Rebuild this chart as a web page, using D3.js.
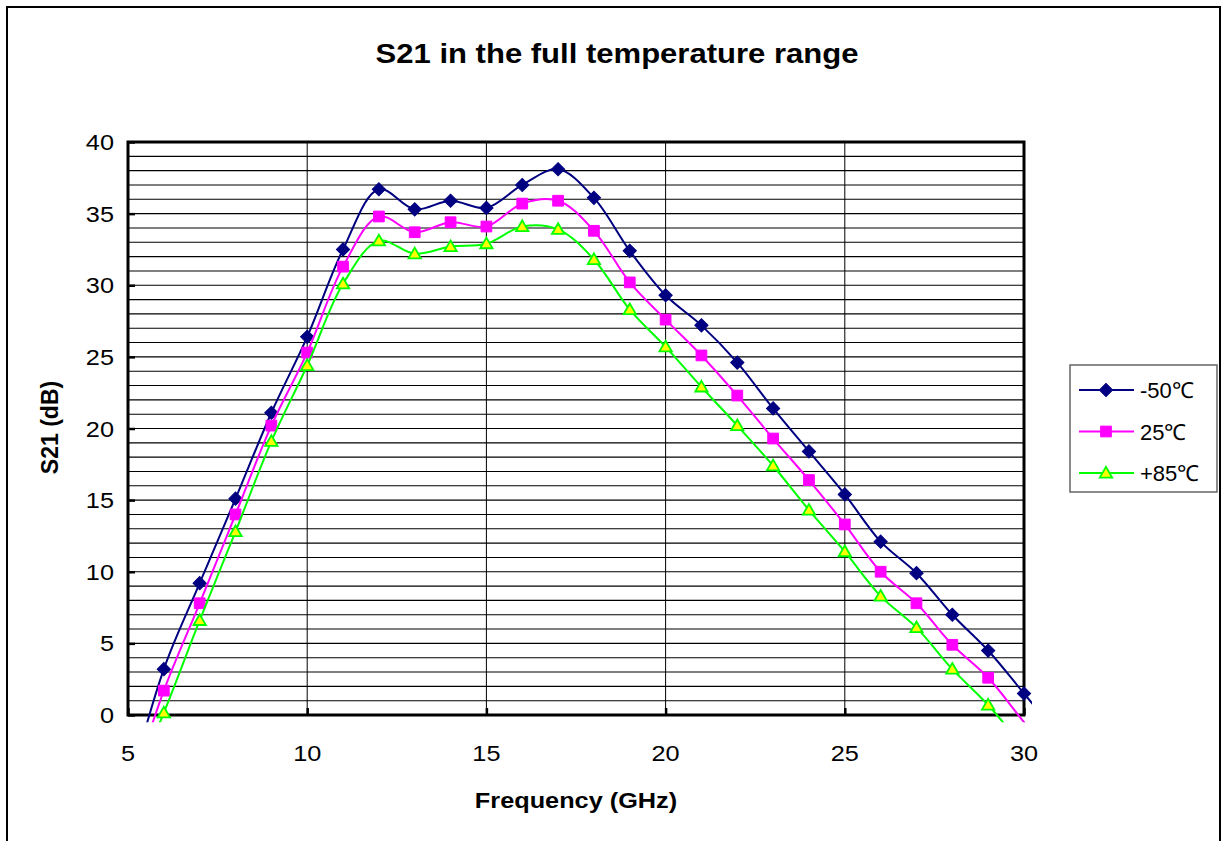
<!DOCTYPE html>
<html>
<head>
<meta charset="utf-8">
<script src="https://cdn.jsdelivr.net/npm/d3@7"></script>
<style>
    body { margin: 0; background: #ffffff; }
    text { font-family: "Liberation Sans", Arial, sans-serif; fill: #000000; }
</style>
</head>
<body>
<div id="chart"></div>
<script>

// =====================================================================================================================
// DATA
// =====================================================================================================================

// frequency points (GHz); 5 and 31 only carry the line out of the plot
var freqs = [5, 6, 7, 8, 9, 10, 11, 12, 13, 14, 15, 16, 17, 18, 19, 20, 21, 22, 23, 24, 25, 26, 27, 28, 29, 30, 31];

var tempLabels = ["-50\u2103", "25\u2103", "+85\u2103"];

// S21 (dB)
var s21Cold = [-5.4, 3.2, 9.2, 15.1, 21.1, 26.4, 32.5, 36.7, 35.3, 35.9, 35.4, 37.0, 38.1, 36.1, 32.4, 29.3, 27.2,
    24.6, 21.4, 18.4, 15.4, 12.1, 9.9, 7.0, 4.5, 1.5, -1.5];
var s21Room = [-5.9, 1.7, 7.8, 14.0, 20.2, 25.3, 31.3, 34.8, 33.7, 34.4, 34.1, 35.7, 35.9, 33.8, 30.2, 27.6, 25.1,
    22.3, 19.3, 16.4, 13.3, 10.0, 7.8, 4.9, 2.6, -0.5, -3.5];
var s21Hot = [-5.7, 0.15, 6.6, 12.8, 19.1, 24.4, 30.1, 33.1, 32.2, 32.7, 32.9, 34.1, 33.9, 31.8, 28.3, 25.7, 22.9,
    20.2, 17.4, 14.3, 11.4, 8.3, 6.1, 3.2, 0.7, -2.3, -5.3];

var xTicks = [5, 10, 15, 20, 25, 30];
var yTicks = [0, 5, 10, 15, 20, 25, 30, 35, 40];
var yGrid = d3.range(1, 40, 1);

// =====================================================================================================================
// SETUP
// =====================================================================================================================

var width = 1226, height = 841;
var margin = {top: 142, right: 196, bottom: 126, left: 128};
var stretch = 1.15; // the original text is a bit wide

var svg = d3.select("#chart").append("svg")
    .attr("width", width)
    .attr("height", height);

// text placed at (tx, ty), widened horizontally
function label(tx, ty, str, size, bold, anchor, rotate) {
    return svg.append("text")
        .attr("transform", "translate(" + tx + "," + ty + ")" + (rotate ? " rotate(-90)" : " scale(" + stretch + ",1)"))
        .attr("text-anchor", anchor || "middle")
        .style("font-size", size + "px")
        .style("font-weight", bold ? "bold" : "normal")
        .text(str);
}

// outer chart frame
svg.append("rect")
    .attr("x", 7).attr("y", 7)
    .attr("width", width - 13).attr("height", height + 20)
    .attr("fill", "none")
    .attr("stroke", "#000000")
    .attr("stroke-width", 2);

var x = d3.scaleLinear().domain([5, 30]).range([margin.left, width - margin.right - 6]);
var y = d3.scaleLinear().domain([0, 40]).range([height - margin.bottom, margin.top]);

var series = [
    {name: tempLabels[0], values: s21Cold, color: "#000080", fill: "#000080", shape: "diamond"},
    {name: tempLabels[1], values: s21Room, color: "#ff00ff", fill: "#ff00ff", shape: "square"},
    {name: tempLabels[2], values: s21Hot, color: "#00ff00", fill: "#ffff00", shape: "triangle"}
];

label(617, 63, "S21 in the full temperature range", 27, true);

// =====================================================================================================================
// GRID + AXES
// =====================================================================================================================

svg.append("rect")
    .attr("x", x(5)).attr("y", y(40))
    .attr("width", x(30) - x(5)).attr("height", y(0) - y(40))
    .attr("fill", "#ffffff");

svg.append("g").selectAll("line")
    .data(yGrid)
    .enter().append("line")
    .attr("x1", x(5)).attr("x2", x(30))
    .attr("y1", function(d) { return y(d); })
    .attr("y2", function(d) { return y(d); })
    .attr("stroke", "#000000")
    .attr("stroke-width", 1.1);

svg.append("g").selectAll("line")
    .data(xTicks.slice(1, -1))
    .enter().append("line")
    .attr("x1", function(d) { return x(d); })
    .attr("x2", function(d) { return x(d); })
    .attr("y1", y(0)).attr("y2", y(40))
    .attr("stroke", "#000000")
    .attr("stroke-width", 1);

// inward ticks only; labels drawn below
var yAxis = svg.append("g")
    .attr("transform", "translate(" + x(5) + ",0)")
    .call(d3.axisLeft(y).tickValues(yTicks).tickSize(-7).tickFormat(""));

var xAxis = svg.append("g")
    .attr("transform", "translate(0," + y(0) + ")")
    .call(d3.axisBottom(x).tickValues(xTicks).tickSize(-7).tickFormat(""));

[xAxis, yAxis].forEach(function(a) {
    a.select(".domain").remove();
    a.selectAll(".tick line").attr("stroke", "#000000").attr("stroke-width", 2.5);
});

yTicks.forEach(function(t) { label(x(5) - 14, y(t) + 8, String(t), 22, false, "end"); });
xTicks.forEach(function(t) { label(x(t), y(0) + 46, String(t), 22, false, "middle"); });

// thick plot border
svg.append("rect")
    .attr("x", x(5)).attr("y", y(40))
    .attr("width", x(30) - x(5)).attr("height", y(0) - y(40))
    .attr("fill", "none")
    .attr("stroke", "#000000")
    .attr("stroke-width", 3);

label((x(5) + x(30)) / 2, 808, "Frequency (GHz)", 22, true);
label(58, y(20) - 1, "S21 (dB)", 23, true, "middle", true);

// =====================================================================================================================
// LINES + MARKERS
// =====================================================================================================================

// lines spill a little past the plot edge, like the original
svg.append("clipPath").attr("id", "plot-clip")
    .append("rect")
    .attr("x", x(5) - 8).attr("y", y(40))
    .attr("width", x(30) - x(5) + 16).attr("height", y(-0.5) - y(40));

var line = d3.line()
    .x(function(d) { return x(d.f); })
    .y(function(d) { return y(d.v); })
    .curve(d3.curveCatmullRom.alpha(0.5));

function markerPath(shape) {
    if (shape === "diamond") return d3.symbol().type(d3.symbolSquare).size(88)();
    if (shape === "square") return d3.symbol().type(d3.symbolSquare).size(115)();
    return d3.symbol().type(d3.symbolTriangle).size(66)();
}

series.forEach(function(s) {
    var pts = freqs.map(function(f, i) { return {f: f, v: s.values[i]}; });

    svg.append("path")
        .datum(pts)
        .attr("clip-path", "url(#plot-clip)")
        .attr("fill", "none")
        .attr("stroke", s.color)
        .attr("stroke-width", 2)
        .attr("d", line);

    svg.append("g").selectAll("path")
        .data(pts.filter(function(d) { return d.f >= 5 && d.f <= 30 && d.v >= 0; }))
        .enter().append("path")
        .attr("transform", function(d) {
            return "translate(" + x(d.f) + "," + (y(d.v) + (s.shape === "triangle" ? 1 : 0)) + ")" +
                (s.shape === "diamond" ? " rotate(45)" : "");
        })
        .attr("d", markerPath(s.shape))
        .attr("fill", s.fill)
        .attr("stroke", s.color)
        .attr("stroke-width", s.shape === "triangle" ? 1.8 : 1);
});

// =====================================================================================================================
// LEGEND
// =====================================================================================================================

var legend = svg.append("g").attr("transform", "translate(1070,365)");

legend.append("rect")
    .attr("width", 147).attr("height", 127)
    .attr("fill", "#ffffff")
    .attr("stroke", "#666666")
    .attr("stroke-width", 1.5);

var rows = legend.selectAll(".row")
    .data(series)
    .enter().append("g")
    .attr("class", "row")
    .attr("transform", function(d, i) { return "translate(0," + (25 + i * 41.5) + ")"; });

rows.append("line")
    .attr("x1", 9).attr("x2", 64)
    .attr("stroke", function(d) { return d.color; })
    .attr("stroke-width", 2);

rows.append("path")
    .attr("transform", function(d) {
        return "translate(36," + (d.shape === "triangle" ? 1 : 0) + ")" + (d.shape === "diamond" ? " rotate(45)" : "");
    })
    .attr("d", function(d) { return markerPath(d.shape); })
    .attr("fill", function(d) { return d.fill; })
    .attr("stroke", function(d) { return d.color; })
    .attr("stroke-width", function(d) { return d.shape === "triangle" ? 1.8 : 1; });

rows.append("text")
    .attr("x", 70).attr("y", 8)
    .style("font-size", "22px")
    .text(function(d) { return d.name; });

</script>
</body>
</html>
